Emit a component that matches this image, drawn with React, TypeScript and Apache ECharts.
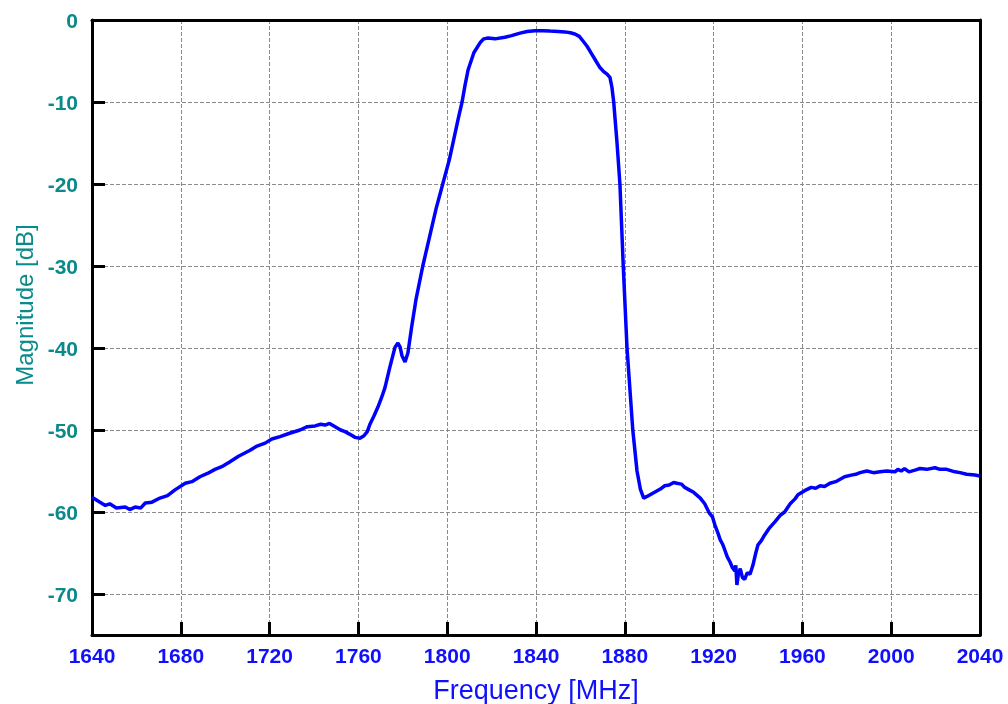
import { useEffect, useRef } from 'react';
import * as echarts from 'echarts';

const freq = [
  1640, 1643.6, 1646, 1648, 1651, 1655, 1657, 1659.4, 1662, 1664, 1667, 1670.6, 1674, 1677.4, 1682, 1685, 1688.6, 1692, 1695.4, 1699,
  1702, 1706, 1711, 1714, 1718, 1721, 1724.7, 1729, 1733.7, 1737, 1740.5, 1743, 1745, 1747, 1749.5, 1752, 1754, 1756, 1758.5, 1760.7,
  1762.5, 1764, 1765.2, 1767, 1768.8, 1770.5, 1772, 1774.2, 1776.5, 1777.8, 1778.8, 1779.6, 1781, 1782.3, 1784, 1786, 1789, 1792, 1795, 1798,
  1801, 1803, 1805, 1806.7, 1808, 1809.4, 1812, 1815, 1816.5, 1818.4, 1821.5, 1826, 1829, 1832.8, 1836, 1839.5, 1843, 1846.3, 1850, 1853,
  1855.5, 1857.5, 1859.5, 1861, 1863, 1865, 1867, 1868.8, 1870.5, 1872, 1873.3, 1874.2, 1875, 1876.5, 1877.8, 1879.3, 1881, 1882.3, 1883.6, 1885.5,
  1887, 1888.5, 1890, 1892, 1894, 1896, 1898, 1900, 1902, 1903.5, 1905.5, 1907, 1909, 1911, 1914, 1916, 1918, 1919.5, 1920.6, 1922,
  1923, 1924, 1925, 1926.2, 1927.4, 1928.5, 1929.6, 1930, 1930.5, 1931.2, 1932, 1933, 1934, 1935.2, 1936.4, 1937.7, 1939, 1940, 1941.5, 1943,
  1945, 1947.6, 1950, 1952, 1954.5, 1956.7, 1958, 1961, 1964, 1966, 1968, 1970, 1972.4, 1975, 1977, 1979, 1982, 1984, 1986, 1989,
  1992, 1995, 1998, 2001.7, 2003, 2004.5, 2006, 2008, 2010.7, 2013, 2016, 2019.7, 2022, 2025, 2028.7, 2031, 2034, 2037.7, 2040,
];

const mag = [
  -58.2, -58.8, -59.2, -59.0, -59.5, -59.4, -59.7, -59.4, -59.5, -58.9, -58.8, -58.3, -58.0, -57.3, -56.5, -56.3, -55.7, -55.3, -54.8, -54.4,
  -53.9, -53.2, -52.5, -52.0, -51.6, -51.1, -50.8, -50.4, -50.0, -49.6, -49.5, -49.3, -49.4, -49.2, -49.6, -50.0, -50.2, -50.5, -50.9, -51.0,
  -50.7, -50.2, -49.3, -48.3, -47.2, -46.0, -44.8, -42.3, -39.9, -39.4, -39.9, -40.9, -41.7, -40.6, -37.4, -34.0, -30.0, -26.5, -23.0, -20.0,
  -17.0, -14.5, -12.0, -10.0, -8.0, -6.1, -4.0, -2.7, -2.3, -2.2, -2.3, -2.1, -1.9, -1.6, -1.4, -1.3, -1.3, -1.35, -1.4, -1.45,
  -1.55, -1.7, -2.0, -2.5, -3.2, -4.1, -5.0, -5.8, -6.3, -6.6, -7.0, -8.2, -10.0, -15.0, -20.0, -30.0, -40.0, -45.0, -50.0, -55.0,
  -57.2, -58.3, -58.1, -57.8, -57.5, -57.2, -56.8, -56.7, -56.4, -56.5, -56.6, -57.0, -57.3, -57.6, -58.3, -59.0, -60.1, -60.6, -61.6, -62.6,
  -63.4, -63.9, -64.6, -65.5, -66.1, -66.8, -67.2, -66.5, -68.9, -67.5, -66.9, -68.0, -68.2, -67.4, -67.6, -66.5, -65.0, -64.0, -63.5, -62.8,
  -62.0, -61.2, -60.4, -60.0, -59.0, -58.4, -57.9, -57.4, -57.0, -57.1, -56.8, -56.9, -56.5, -56.3, -56.0, -55.7, -55.5, -55.4, -55.2, -55.0,
  -55.2, -55.1, -55.0, -55.1, -54.8, -55.0, -54.7, -55.1, -54.9, -54.7, -54.8, -54.6, -54.8, -54.8, -55.1, -55.2, -55.4, -55.5, -55.6,
];

const yTicks = [0, -10, -20, -30, -40, -50, -60, -70];
const xName = 'Frequency [MHz]';
const yName = 'Magnitude [dB]';

export default function App() {
  const ref = useRef<HTMLDivElement>(null);
  useEffect(() => {
    const chart = echarts.init(ref.current!, null, { renderer: 'svg' });
    const font = 'Liberation Sans, Arial, sans-serif';
    chart.setOption({
      animation: false,
      grid: { left: 92, right: 28, top: 20, bottom: 69 },
      xAxis: [
        {
          type: 'value', min: 1640, max: 2040, interval: 40, position: 'bottom',
          axisLine: { show: true, onZero: false, lineStyle: { color: '#000', width: 3 } },
          axisTick: { show: true, inside: true, length: 13, lineStyle: { color: '#000', width: 3 } },
          axisLabel: {
            color: '#1010ff', fontSize: 21, fontWeight: 'bold', fontFamily: font, margin: 10,
            formatter: (v: number) => String(v),
          },
          splitLine: { show: true, lineStyle: { color: '#8a8a8a', width: 1, type: 'dashed' } },
        },
        {
          type: 'value', min: 1640, max: 2040, interval: 40, position: 'top',
          axisLine: { show: true, onZero: false, lineStyle: { color: '#000', width: 3 } },
          axisTick: { show: false },
          axisLabel: { show: false },
          splitLine: { show: false },
        },
      ],
      yAxis: [
        {
          type: 'value', min: -75, max: 0, position: 'left',
          axisLine: { show: true, onZero: false, lineStyle: { color: '#000', width: 3 } },
          axisTick: { show: true, inside: true, length: 13, customValues: yTicks, lineStyle: { color: '#000', width: 3 } },
          axisLabel: {
            customValues: yTicks,
            color: '#0a8a8a', fontSize: 21, fontWeight: 'bold', fontFamily: font, margin: 14,
          },
          splitLine: { show: true, lineStyle: { color: '#8a8a8a', width: 1, type: 'dashed' } },
        },
        {
          type: 'value', min: -75, max: 0, position: 'right',
          axisLine: { show: true, onZero: false, lineStyle: { color: '#000', width: 3 } },
          axisTick: { show: false },
          axisLabel: { show: false },
          splitLine: { show: false },
        },
      ],
      graphic: [
        {
          type: 'text', x: 536, y: 690,
          style: { text: xName, fill: '#1010ff', font: `27px ${font}`, textAlign: 'center', textVerticalAlign: 'middle' },
        },
        {
          type: 'text', x: 24, y: 305, rotation: Math.PI / 2,
          style: { text: yName, fill: '#0a8a8a', font: `24px ${font}`, textAlign: 'center', textVerticalAlign: 'middle' },
        },
      ],
      series: [
        {
          type: 'line',
          data: freq.map((f, i) => [f, mag[i]]),
          showSymbol: false,
          symbol: 'none',
          lineStyle: { color: '#0000ff', width: 3.5 },
        },
      ],
    });
    return () => chart.dispose();
  }, []);
  return <div ref={ref} style={{ position: 'fixed', left: 0, top: 0, width: 1008, height: 704 }} />;
}
